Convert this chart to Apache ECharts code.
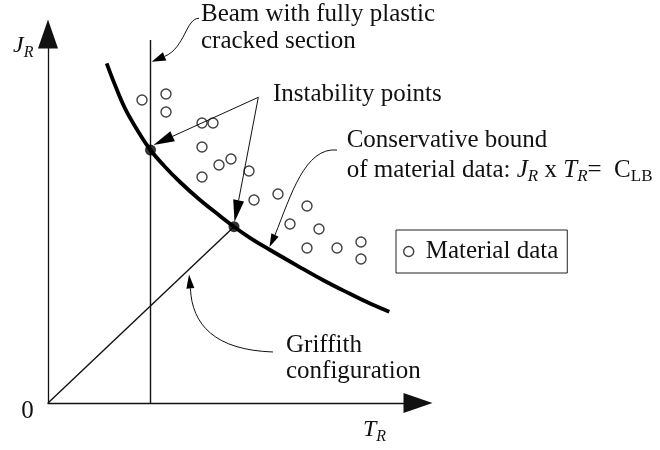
<!DOCTYPE html>
<html><head><meta charset="utf-8">
<script src="https://cdn.jsdelivr.net/npm/echarts@6/dist/echarts.min.js"></script>
<style>html,body{margin:0;padding:0;background:#fff}#c{width:660px;height:450px}</style>
</head><body><div id="c"></div>
<script>
const FONT = '"Liberation Serif","Times New Roman",serif';
const INK = '#111';

// Material data (T_R, J_R) in arbitrary schematic units
const materialT = [94, 118, 118, 154, 165, 154, 183, 171, 154, 201, 206, 230, 259, 242, 271, 259, 289, 313, 313];
const materialJ = [303, 309, 291, 280, 280, 256, 244, 238, 226, 232, 203, 209, 197, 179, 174, 155, 155, 161, 144];

// Conservative bound J_R x T_R = C_LB
const boundT = [58.7, 67, 77, 88.7, 102.5, 116, 132, 152, 172, 186, 202, 221.3, 248.7, 275.3, 302, 322, 341.3];
const boundJ = [339.7, 318, 294.7, 274, 253, 237.3, 221, 203, 187.1, 176.3, 165.2, 153.5, 137.7, 122.8, 109.2, 99.5, 91.3];

// Beam with fully plastic cracked section (vertical line)
const beamT = [102.5, 102.5];
const beamJ = [0, 363];

// Griffith configuration (line through origin)
const griffithT = [0, 186];
const griffithJ = [0, 176.3];

// Instability points
const instabilityT = [102.5, 186];
const instabilityJ = [253, 176.3];

const axisMaxT = 370, axisMaxJ = 369;

// Annotation anchors (data units): bezier P0, C1, C2, P3(head base), tip
const beamArrow = [[151, 384.7], [138, 385], [137, 355], [116.6, 346.6], [103.7, 341.3]];
const boundArrow = [[289, 253], [257, 256], [243, 208], [227, 168], [221.5, 156]];
const griffithArrow = [[225, 51], [167, 53], [144, 78], [142.4, 114.6], [141, 128.5]];
const instabApex = [210.3, 305.7];
const instabTips = [[105.5, 258], [186.5, 181]];

const zip = (a, b) => a.map((v, i) => [v, b[i]]);

const chart = echarts.init(document.getElementById('c'), null, {renderer: 'canvas'});

const axisCommon = {
  type: 'value', min: 0,
  axisLine: {show: true, onZero: true, symbol: ['none', 'triangle'], symbolSize: [20, 29],
    lineStyle: {color: INK, width: 1.3}},
  axisTick: {show: false}, axisLabel: {show: false}, splitLine: {show: false}
};

chart.setOption({
  animation: false,
  backgroundColor: '#fff',
  grid: {left: 48, top: 34, width: 370, height: 369, containLabel: false, outerBoundsMode: 'none'},
  xAxis: Object.assign({}, axisCommon, {max: axisMaxT}),
  yAxis: Object.assign({}, axisCommon, {max: axisMaxJ}),
  legend: {
    data: ['Material data'], left: 396, top: 230, orient: 'horizontal',
    padding: [9, 9, 9, 7], itemWidth: 10, itemHeight: 10, icon: 'circle',
    itemStyle: {color: '#fff', borderColor: INK, borderWidth: 1.4},
    borderColor: '#222', borderWidth: 1, borderRadius: 0, selectedMode: false,
    textStyle: {fontFamily: FONT, fontSize: 25, color: INK, padding: [0, 0, 0, 7]}
  },
  series: [
    {type: 'line', data: zip(beamT, beamJ), symbol: 'none', silent: true,
      lineStyle: {color: INK, width: 1.4}, z: 2},
    {type: 'line', data: zip(griffithT, griffithJ), symbol: 'none', silent: true,
      lineStyle: {color: INK, width: 1.4}, z: 2},
    {type: 'line', data: zip(boundT, boundJ), symbol: 'none', smooth: 0.4, silent: true,
      lineStyle: {color: '#000', width: 3.8}, z: 3},
    {name: 'Material data', type: 'scatter', data: zip(materialT, materialJ), symbol: 'circle',
      symbolSize: 10, silent: true,
      itemStyle: {color: '#fff', borderColor: INK, borderWidth: 1.4}, z: 4},
    {type: 'scatter', data: zip(instabilityT, instabilityJ), symbol: 'circle', symbolSize: 11,
      silent: true, itemStyle: {color: '#000'}, z: 5}
  ]
});

const px = p => chart.convertToPixel({gridIndex: 0}, p);

function head(tip, base, hw) {
  const dx = tip[0] - base[0], dy = tip[1] - base[1];
  const L = Math.hypot(dx, dy);
  const nx = -dy / L * hw, ny = dx / L * hw;
  return {type: 'polygon', silent: true, z: 100,
    shape: {points: [tip, [base[0] + nx, base[1] + ny], [base[0] - nx, base[1] - ny]]},
    style: {fill: '#000'}};
}
function curveArrow(a, hw) {
  const p = a.map(px);
  return [
    {type: 'bezierCurve', silent: true, z: 100,
      shape: {x1: p[0][0], y1: p[0][1], cpx1: p[1][0], cpy1: p[1][1], cpx2: p[2][0], cpy2: p[2][1], x2: p[3][0], y2: p[3][1]},
      style: {stroke: INK, lineWidth: 1, fill: null}},
    head(p[4], p[3], hw)
  ];
}
function straightArrow(from, tip, len, hw) {
  const a = px(from), t = px(tip);
  const dx = t[0] - a[0], dy = t[1] - a[1], L = Math.hypot(dx, dy);
  const base = [t[0] - dx / L * len, t[1] - dy / L * len];
  return [
    {type: 'line', silent: true, z: 100, shape: {x1: a[0], y1: a[1], x2: base[0], y2: base[1]},
      style: {stroke: INK, lineWidth: 1}},
    head(t, base, hw)
  ];
}
function txt(text, x, y, size, opts) {
  return {type: 'text', silent: true, z: 100,
    style: Object.assign({text: text, x: x, y: y, fontFamily: FONT, fontSize: size, fill: INK,
      align: 'left', verticalAlign: 'middle', textAlign: 'left', textVerticalAlign: 'middle'}, opts || {})};
}

const elements = [].concat(
  curveArrow(beamArrow, 4.5),
  curveArrow(boundArrow, 4),
  curveArrow(griffithArrow, 4),
  straightArrow(instabApex, instabTips[0], 21, 5.5),
  straightArrow(instabApex, instabTips[1], 22, 5.5),
  [
    txt('Beam with fully plastic', 201, 14.3, 25),
    txt('cracked section', 201, 41.6, 25),
    txt('Instability points', 273, 94.3, 25),
    txt('Conservative bound', 346.7, 140, 25),
    txt('{n|of material data: }{i|J}{is|R}{n| x }{i|T}{is|R}{n|=  C}{s|LB}', 346.7, 170, 25, {
      rich: {
        n: {fontFamily: FONT, fontSize: 25, lineHeight: 30, fill: INK},
        i: {fontFamily: FONT, fontSize: 25, fontStyle: 'italic', lineHeight: 30, fill: INK},
        is: {fontFamily: FONT, fontSize: 17, fontStyle: 'italic', lineHeight: 12, verticalAlign: 'bottom', fill: INK},
        s: {fontFamily: FONT, fontSize: 17, lineHeight: 12, verticalAlign: 'bottom', fill: INK}
      }}),
    txt('Griffith', 286, 345, 25),
    txt('configuration', 286, 371.6, 25),
    txt('0', 27.5, 411.6, 25, {align: 'center', textAlign: 'center'}),
    txt('{i|J}{s|R}', 13, 45.4, 24, {rich: {
      i: {fontFamily: FONT, fontSize: 24, fontStyle: 'italic', lineHeight: 30, fill: INK},
      s: {fontFamily: FONT, fontSize: 16, fontStyle: 'italic', lineHeight: 8.6, verticalAlign: 'bottom', fill: INK}}}),
    txt('{i|T}{s|R}', 363, 429.9, 24, {rich: {
      i: {fontFamily: FONT, fontSize: 24, fontStyle: 'italic', lineHeight: 30, fill: INK},
      s: {fontFamily: FONT, fontSize: 16, fontStyle: 'italic', lineHeight: 14.6, verticalAlign: 'bottom', fill: INK}}})
  ]
);

chart.setOption({graphic: {elements: elements}});
</script>
</body></html>
